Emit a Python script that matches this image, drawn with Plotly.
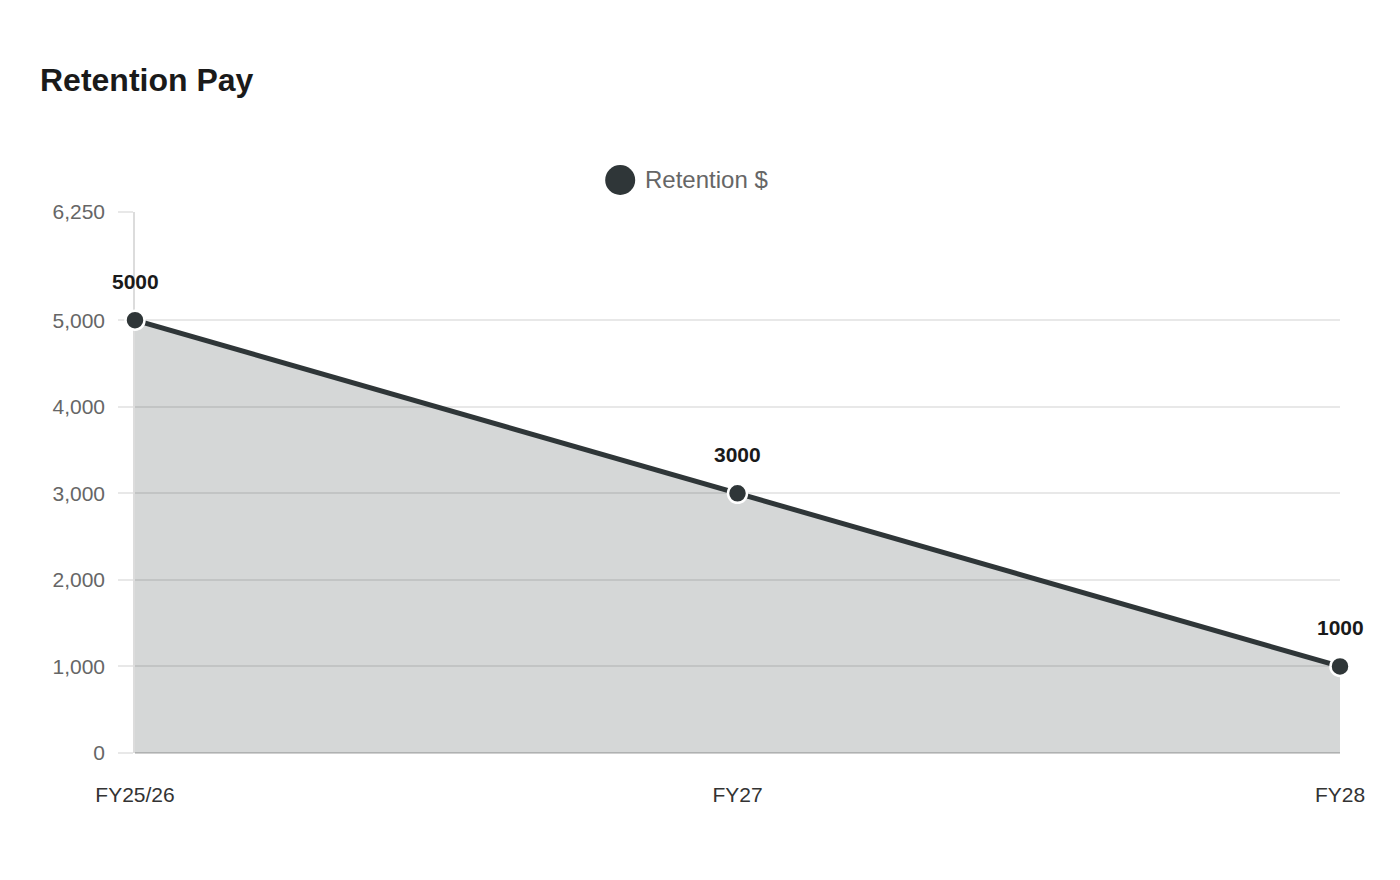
import plotly.graph_objects as go

categories = ["FY25/26", "FY27", "FY28"]
retention = [5000, 3000, 1000]
series_name = "Retention $"
y_ticks = [0, 1000, 2000, 3000, 4000, 5000, 6250]

dark = "#2f3638"
FONT = "Liberation Sans, Arial, sans-serif"
fig = go.Figure()
fig.add_trace(go.Scatter(
    x=categories, y=retention, mode="lines+markers",
    fill="tozeroy", fillcolor="rgba(47,54,56,0.2)",
    line=dict(color=dark, width=5),
    marker=dict(size=19, color=dark, line=dict(color="white", width=2.5)),
    cliponaxis=False, showlegend=False, hoverinfo="x+y",
))
for c, v in zip(categories, retention):
    fig.add_annotation(x=c, y=v, text=f"<b>{v}</b>", showarrow=False,
                       yshift=39, font=dict(size=21, color="#1a1a1a", family=FONT))

# legend (custom, to match the large circle symbol)
fig.add_shape(type="circle", xref="paper", yref="paper",
              xsizemode="pixel", ysizemode="pixel",
              xanchor=(619 - 133) / 1207, yanchor=(753 - 180) / 541,
              x0=-15, x1=15, y0=-15, y1=15,
              fillcolor=dark, line=dict(width=0))
fig.add_annotation(x=(642 - 133) / 1207, y=(753 - 180) / 541, xref="paper", yref="paper",
                   xanchor="left", yanchor="middle", text=series_name, showarrow=False,
                   font=dict(size=24, color="#666666", family=FONT))

fig.update_layout(
    width=1400, height=880,
    paper_bgcolor="white", plot_bgcolor="white",
    margin=dict(l=127, r=68, t=204, b=135),
    font=dict(family=FONT, color="#666666", size=21),
    title=dict(text="<b>Retention Pay</b>", x=32/1400, xanchor="left",
               y=1-72/880, yanchor="middle",
               font=dict(size=32, color="#1a1a1a")),
    showlegend=False,
)
fig.update_xaxes(
    type="category", range=[0, 2], showgrid=False, showline=False,
    zeroline=False, ticks="outside", ticklen=23, tickcolor="rgba(0,0,0,0)",
    tickfont=dict(size=21, color="#333333"),
)
fig.update_yaxes(
    range=[0, 6250], tickvals=y_ticks, tickformat=",",
    showgrid=True, gridcolor="#e8e8e8", gridwidth=1.5,
    showline=True, linecolor="#dcdcdc", linewidth=1.5,
    zeroline=True, zerolinecolor="#d0d0d0", zerolinewidth=1.5,
    ticks="outside", ticklen=15, tickcolor="#e8e8e8", tickwidth=1.5,
    ticklabelstandoff=9, layer="below traces",
    tickfont=dict(size=21, color="#666666"),
)
fig.write_html("out.html")
